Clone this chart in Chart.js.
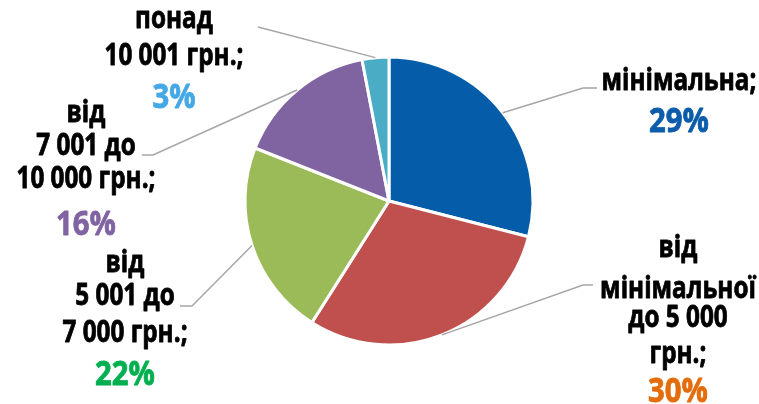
<!DOCTYPE html>
<html>
<head>
<meta charset="utf-8">
<script src="https://cdn.jsdelivr.net/npm/chart.js@4/dist/chart.umd.min.js"></script>
<style>
  html, body { margin: 0; padding: 0; background: #ffffff; }
  #wrap { width: 759px; height: 404px; position: relative; }
</style>
</head>
<body>
<div id="wrap"><canvas id="c" width="759" height="404"></canvas></div>
<script>
// ---- data ----
const categories = ['мінімальна', 'від мінімальної до 5 000 грн.', 'від 5 001 до 7 000 грн.', 'від 7 001 до 10 000 грн.', 'понад 10 001 грн.'];
const values = [29, 30, 22, 16, 3];
const labelLines = [
  ['мінімальна;'],
  ['від', 'мінімальної', 'до 5 000', 'грн.;'],
  ['від', '5 001 до', '7 000 грн.;'],
  ['від', '7 001 до', '10 000 грн.;'],
  ['понад', '10 001 грн.;']
];
const percentLabels = values.map(v => v + '%');

// ---- styles ----
const sliceColors = ['#055DA9', '#C0504D', '#9BBB59', '#8064A2', '#4BACC6'];
const percentColors = ['#0B5CAB', '#E46C0A', '#00B050', '#8064A2', '#45A8E6'];

// label layout (center x, baselines per line, leader elbow and end)
const labelLayout = [
  { x: 679, base: [90], pBase: 132, elbow: [583, 88], end: [597, 88] },
  { x: 678, base: [257, 298, 327, 363], pBase: 402, elbow: [583, 285], end: [593, 285] },
  { x: 125, base: [272, 305, 342], pBase: 385, elbow: [192, 306], end: [180, 306] },
  { x: 86,  base: [122, 155, 188], pBase: 235, elbow: [153, 155], end: [142, 155] },
  { x: 174, base: [28, 65], pBase: 108, elbow: [258, 27], end: [258, 27] }
];

function drawText(ctx, txt, x, y, font, color, sx, sw) {
  ctx.save();
  ctx.translate(x, y);
  ctx.scale(sx, 1);
  ctx.font = font;
  ctx.fillStyle = color;
  ctx.strokeStyle = color;
  ctx.lineWidth = sw;
  ctx.lineJoin = 'round';
  ctx.textAlign = 'center';
  ctx.textBaseline = 'alphabetic';
  ctx.fillText(txt, 0, 0);
  if (sw > 0) ctx.strokeText(txt, 0, 0);
  ctx.restore();
}

const labelPlugin = {
  id: 'sliceLabels',
  afterDraw(chart) {
    const ctx = chart.ctx;
    const meta = chart.getDatasetMeta(0);
    meta.data.forEach((arc, i) => {
      const L = labelLayout[i];
      const mid = (arc.startAngle + arc.endAngle) / 2;
      const sx0 = arc.x + Math.cos(mid) * arc.outerRadius;
      const sy0 = arc.y + Math.sin(mid) * arc.outerRadius;
      ctx.save();
      ctx.strokeStyle = '#A6A6A6';
      ctx.lineWidth = 1.5;
      ctx.beginPath();
      ctx.moveTo(sx0, sy0);
      ctx.lineTo(L.elbow[0], L.elbow[1]);
      ctx.lineTo(L.end[0], L.end[1]);
      ctx.stroke();
      ctx.restore();
      labelLines[i].forEach((line, j) => {
        drawText(ctx, line, L.x, L.base[j], 'bold 30px "Open Sans"', '#000000', 0.81, 0.8);
      });
      drawText(ctx, percentLabels[i], L.x, L.pBase, 'bold 34px "Open Sans"', percentColors[i], 0.86, 0.8);
    });
  }
};

new Chart(document.getElementById('c'), {
  type: 'pie',
  data: {
    labels: categories,
    datasets: [{
      data: values,
      backgroundColor: sliceColors,
      borderColor: '#ffffff',
      borderWidth: 3
    }]
  },
  options: {
    responsive: false,
    animation: false,
    radius: 144,
    layout: { padding: { left: 19, right: 0, top: 0, bottom: 2 } },
    plugins: { legend: { display: false }, tooltip: { enabled: false } }
  },
  plugins: [labelPlugin]
});
</script>
</body>
</html>
